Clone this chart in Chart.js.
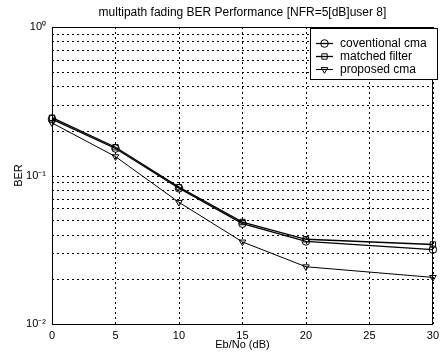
<!DOCTYPE html>
<html><head><meta charset="utf-8">
<script src="https://cdn.jsdelivr.net/npm/chart.js@4/dist/chart.umd.min.js"></script>
<style>html,body{margin:0;padding:0;background:#fff}#wrap{width:444px;height:358px}</style>
</head><body><div id="wrap"><canvas id="c" width="444" height="358"></canvas></div>
<script>
const ebno = [0, 5, 10, 15, 20, 30];
const conventionalCma = [0.240, 0.152, 0.082, 0.0474, 0.036, 0.0317];
const matchedFilter = [0.245, 0.155, 0.0835, 0.0486, 0.0372, 0.0343];
const proposedCma = [0.226, 0.134, 0.066, 0.0357, 0.0243, 0.0206];
const seriesNames = ['coventional cma', 'matched filter', 'proposed cma'];
const chartTitle = 'multipath fading BER Performance [NFR=5[dB]user 8]';
const yMajorTicks = [0.01, 0.1, 1];
const yTickLabels = ['10\u207B\u00B2', '10\u207B\u00B9', '10\u2070'];
const xTicks = [0, 5, 10, 15, 20, 25, 30];

const FONT = 'Liberation Sans, Arial, sans-serif';

function pts(arr){ return arr.map((v,i)=>({x: ebno[i], y: v})); }

const decor = {
  id: 'decor',
  beforeDatasetsDraw(chart){
    const {ctx, chartArea:a, scales} = chart;
    ctx.save();
    ctx.strokeStyle = '#000'; ctx.lineWidth = 1; ctx.setLineDash([2,3]);
    scales.y.ticks.forEach(t => {
      const y = Math.round(scales.y.getPixelForValue(t.value)) + 0.5;
      ctx.beginPath(); ctx.moveTo(a.left, y); ctx.lineTo(a.right, y); ctx.stroke();
    });
    scales.x.ticks.forEach(t => {
      const x = Math.round(scales.x.getPixelForValue(t.value)) + 0.5;
      ctx.beginPath(); ctx.moveTo(x, a.top); ctx.lineTo(x, a.bottom); ctx.stroke();
    });
    ctx.setLineDash([]);
    ctx.strokeRect(Math.round(a.left)+0.5, Math.round(a.top)+0.5, Math.round(a.right-a.left)-1, Math.round(a.bottom-a.top));
    ctx.fillStyle = '#000'; ctx.font = '12px ' + FONT; ctx.textAlign = 'center'; ctx.textBaseline = 'middle';
    ctx.fillText(chartTitle, (a.left + a.right)/2, 13);
    ctx.restore();
  },
  afterDraw(chart){
    const {ctx} = chart;
    const x0 = 310, y0 = 28, w = 127, h = 51;
    ctx.save();
    ctx.fillStyle = '#fff'; ctx.fillRect(x0, y0, w, h);
    ctx.strokeStyle = '#000'; ctx.lineWidth = 1;
    ctx.strokeRect(x0+0.5, y0+0.5, w, h);
    ctx.font = '12px ' + FONT; ctx.textBaseline = 'middle'; ctx.textAlign = 'left';
    chart.data.datasets.forEach((ds, i) => {
      const y = 43 + i*13;
      ctx.beginPath(); ctx.moveTo(316, y+0.5); ctx.lineTo(333, y+0.5);
      ctx.lineWidth = ds.borderWidth; ctx.strokeStyle = '#000'; ctx.stroke();
      ctx.fillStyle = 'rgba(0,0,0,0)'; ctx.lineWidth = 1;
      Chart.helpers.drawPoint(ctx, {pointStyle: ds.pointStyle, rotation: ds.pointRotation || 0, radius: ds.pointRadius, borderWidth: 1}, 324.5, y+0.5);
      ctx.fillStyle = '#000';
      ctx.fillText(ds.label, 340, y+0.5);
    });
    ctx.restore();
  }
};

new Chart(document.getElementById('c'), {
  type: 'line',
  data: {
    datasets: [
      {label: seriesNames[0], data: pts(conventionalCma), pointStyle: 'circle'},
      {label: seriesNames[1], data: pts(matchedFilter), pointStyle: 'rect'},
      {label: seriesNames[2], data: pts(proposedCma), pointStyle: 'triangle', pointRotation: 180}
    ].map((d,i) => Object.assign({
      borderColor: '#000', backgroundColor: 'rgba(0,0,0,0)', pointBorderColor: '#000',
      pointBackgroundColor: 'rgba(0,0,0,0)', borderWidth: i < 2 ? 1.3 : 1, pointRadius: 3.8,
      pointBorderWidth: 1, tension: 0, clip: false
    }, d))
  },
  options: {
    responsive: false, animation: false,
    layout: {padding: {left: 12, right: 3, top: 27, bottom: 0}},
    plugins: {legend: {display: false}, tooltip: {enabled: false}, title: {display: false}},
    scales: {
      x: {
        type: 'linear', min: 0, max: 30,
        afterBuildTicks(s){ s.ticks = xTicks.map(v => ({value: v})); },
        afterFit(s){ s.height = 34; },
        ticks: {color: '#000', font: {family: FONT, size: 11}, padding: 5, maxRotation: 0},
        grid: {display: false, drawTicks: false},
        border: {display: false},
        title: {display: true, text: 'Eb/No (dB)', color: '#000', font: {family: FONT, size: 11}, padding: {top: 0, bottom: 6}}
      },
      y: {
        type: 'logarithmic', min: 0.01, max: 1,
        afterBuildTicks(s){
          const t = [];
          for (const base of [0.01, 0.1]) for (let k = 1; k < 10; k++) t.push({value: +(base*k).toPrecision(3)});
          t.push({value: 1});
          s.ticks = t;
        },
        afterFit(s){ s.width = 40; },
        ticks: {color: '#000', font: {family: FONT, size: 11}, padding: 6, autoSkip: false,
          callback(v){ const i = yMajorTicks.findIndex(m => Math.abs(m - v) < 1e-9); return i >= 0 ? yTickLabels[i] : ''; }},
        grid: {display: false, drawTicks: false},
        border: {display: false},
        title: {display: true, text: 'BER', color: '#000', font: {family: FONT, size: 11}, padding: {top: 0, bottom: 0}}
      }
    }
  },
  plugins: [decor]
});
</script></body></html>
